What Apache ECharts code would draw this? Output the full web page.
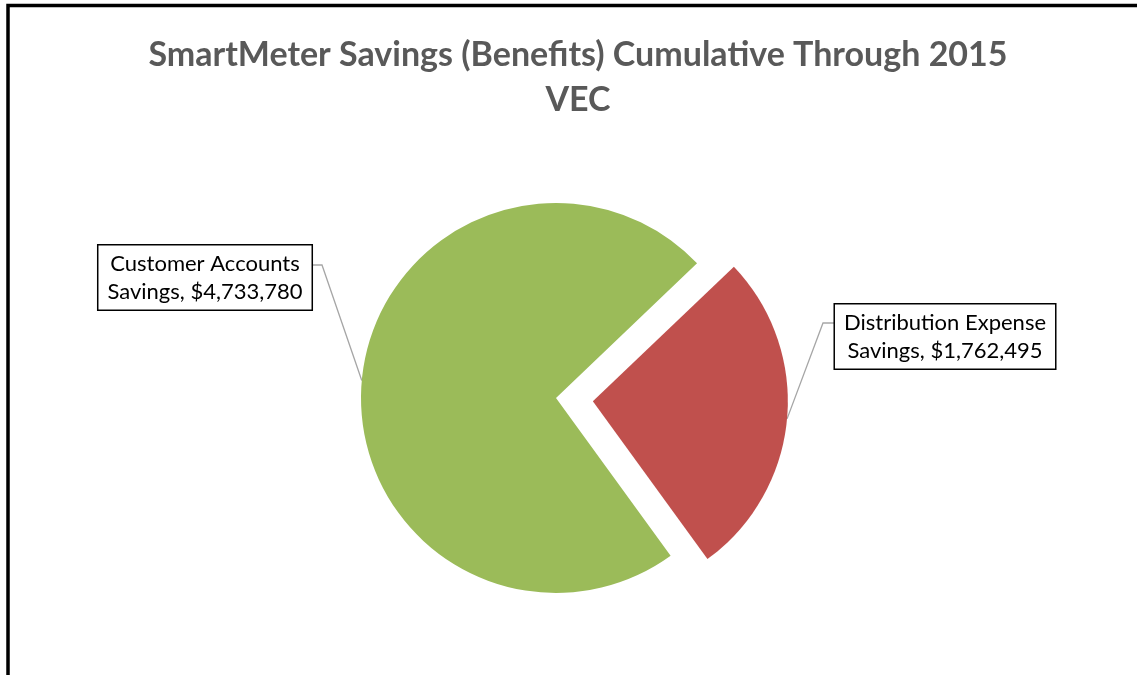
<!DOCTYPE html>
<html><head><meta charset="utf-8">
<script src="https://cdn.jsdelivr.net/npm/echarts@6/dist/echarts.min.js"></script>
<style>html,body{margin:0;padding:0;background:#fff}#c{width:1137px;height:675px}</style>
</head><body><div id="c"></div>
<script>
const titleLines = ['SmartMeter Savings (Benefits) Cumulative Through 2015', 'VEC'];
const categories = ['Customer Accounts Savings', 'Distribution Expense Savings'];
const values = [4733780, 1762495];
const colors = ['#9BBB59', '#C0504D'];
const explodedIndex = 1;

const fmt = v => '$' + v.toLocaleString('en-US');
const chart = echarts.init(document.getElementById('c'));

const center = [556, 398];
const radius = 195;
const startAngle = -54;
const explodeDist = 37;
const total = values.reduce((a, b) => a + b, 0);
// bisector angle of exploded slice (ECharts: degrees ccw from east, slices go clockwise)
let before = 0;
for (let i = 0; i < explodedIndex; i++) before += values[i];
const midDeg = startAngle - 360 * (before + values[explodedIndex] / 2) / total;
const midRad = midDeg * Math.PI / 180;
const center2 = [center[0] + explodeDist * Math.cos(midRad), center[1] - explodeDist * Math.sin(midRad)];

const labelBoxes = [
  { x: 205, y: 277.5, lineX: 322, lineY: 265, edgeX: 310 },
  { x: 945, y: 336.5, lineX: 823, lineY: 323, edgeX: 836 }
];

const hidden = { color: 'rgba(0,0,0,0)' };
function makeData(showIdx) {
  return categories.map((n, i) => i === showIdx || (showIdx === -1 && i !== explodedIndex) ? {
    name: n, value: values[i], itemStyle: { color: colors[i] }
  } : {
    name: n, value: values[i], itemStyle: hidden, label: { show: false }, labelLine: { show: false }
  });
}

const baseSeries = {
  type: 'pie',
  radius: radius,
  startAngle: startAngle,
  clockwise: true,
  avoidLabelOverlap: false,
  silent: true,
  emphasis: { disabled: true },
  label: {
    show: true, position: 'outside',
    formatter: p => {
      const parts = p.name.split(' ');
      return parts.slice(0, 2).join(' ') + '\n' + parts.slice(2).join(' ') + ', ' + fmt(p.value);
    },
    fontFamily: 'Lato', fontSize: 22, color: '#000', lineHeight: 28,
    backgroundColor: '#fff', borderColor: '#000', borderWidth: 1.5,
    padding: [4, 9, 4, 9], align: 'center'
  },
  labelLine: { show: true, length: 20, length2: 12, lineStyle: { color: '#A6A6A6', width: 1.3 } },
  labelLayout: params => {
    const b = labelBoxes[params.dataIndex];
    if (!b) return {};
    const p0 = params.labelLinePoints ? params.labelLinePoints[0] : [b.lineX, b.lineY];
    return {
      x: b.x, y: b.y, align: 'center', verticalAlign: 'middle',
      labelLinePoints: [p0, [b.lineX, b.lineY], [b.edgeX, b.lineY]]
    };
  }
};

chart.setOption({
  animation: false,
  backgroundColor: '#fff',
  title: {
    text: titleLines.join('\n'),
    left: 573, top: 28, textAlign: 'center',
    textStyle: { fontFamily: 'Lato', fontWeight: 'bold', fontSize: 34, color: '#595959', lineHeight: 45 }
  },
  graphic: [{
    type: 'polyline', silent: true,
    shape: { points: [[8, 680], [8, 5.5], [1145, 5.5]] },
    style: { stroke: '#000', lineWidth: 3.5, fill: null }
  }],
  series: [
    Object.assign({}, baseSeries, { center: center, data: makeData(-1) }),
    Object.assign({}, baseSeries, { center: center2, data: makeData(explodedIndex) })
  ]
});
</script></body></html>
